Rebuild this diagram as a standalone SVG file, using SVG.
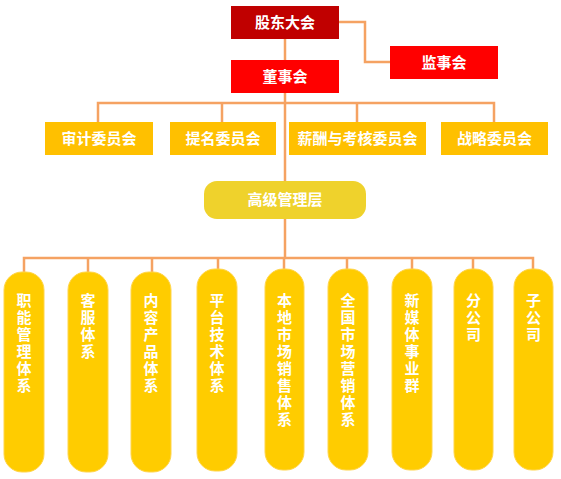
<svg xmlns="http://www.w3.org/2000/svg" width="561" height="479" viewBox="0 0 561 479">
<style>
.ln{stroke:#F5A262;stroke-width:2.5;fill:none}
.t{font-family:"Noto Sans CJK SC","Noto Sans",sans-serif;font-weight:bold;font-size:15px;fill:#fff;text-anchor:middle}
.v{font-family:"Noto Sans CJK SC","Noto Sans",sans-serif;font-weight:bold;font-size:15px;fill:#fff;writing-mode:vertical-rl;text-anchor:start;letter-spacing:2px}
.cm{fill:#FFC000}
.pill{fill:#FFCC00;stroke:#FFD54A;stroke-width:1}
</style>
<rect width="561" height="479" fill="#fff"/>
<g id="connectors">
<path class="ln" d="M285 39V258"/>
<path class="ln" d="M339 22H365V62H390"/>
<path class="ln" d="M98 122V103H494V122M222 103V122M357 103V122"/>
<path class="ln" d="M24 272V258H533V270M88 258V272M152 258V272M218 258V270M284 258V270M347 258V270M412 258V270M473 258V270"/>
</g>
<g id="gudong"><rect x="231" y="6" width="108" height="33" fill="#C00000"/><text class="t" x="285" y="28">股东大会</text></g>
<g id="dongshi"><rect x="231" y="60" width="108" height="33" fill="#FF0000"/><text class="t" x="285" y="82">董事会</text></g>
<g id="jianshi"><rect x="390" y="46" width="108" height="33" fill="#FF0000"/><text class="t" x="444" y="68">监事会</text></g>
<g id="shenji"><rect class="cm" x="45" y="122" width="108" height="33"/><text class="t" x="99" y="144">审计委员会</text></g>
<g id="timing"><rect class="cm" x="170" y="122" width="106" height="33"/><text class="t" x="223" y="144">提名委员会</text></g>
<g id="xinchou"><rect class="cm" x="289" y="122" width="137" height="33"/><text class="t" x="357.5" y="144">薪酬与考核委员会</text></g>
<g id="zhanlue"><rect class="cm" x="441" y="122" width="107" height="33"/><text class="t" x="494.5" y="144">战略委员会</text></g>
<g id="gaoji"><rect x="204" y="181" width="162" height="38" rx="13" fill="#EFD22C"/><text class="t" x="285" y="205">高级管理层</text></g>
<g id="zhineng"><rect class="pill" x="4" y="272" width="40" height="200" rx="18"/><text class="v" x="24" y="293">职能管理体系</text></g>
<g id="kefu"><rect class="pill" x="68" y="272" width="40" height="200" rx="18"/><text class="v" x="88" y="293">客服体系</text></g>
<g id="neirong"><rect class="pill" x="131" y="272" width="40" height="200" rx="18"/><text class="v" x="151" y="293">内容产品体系</text></g>
<g id="pingtai"><rect class="pill" x="197" y="269" width="40" height="202" rx="18"/><text class="v" x="217" y="293">平台技术体系</text></g>
<g id="bendi"><rect class="pill" x="265" y="269" width="39" height="201" rx="18"/><text class="v" x="284.5" y="293">本地市场销售体系</text></g>
<g id="quanguo"><rect class="pill" x="328" y="269" width="40" height="201" rx="18"/><text class="v" x="348" y="293">全国市场营销体系</text></g>
<g id="xinmeiti"><rect class="pill" x="392" y="269" width="40" height="201" rx="18"/><text class="v" x="412" y="293">新媒体事业群</text></g>
<g id="fengongsi"><rect class="pill" x="454" y="269" width="39" height="201" rx="18"/><text class="v" x="473.5" y="293">分公司</text></g>
<g id="zigongsi"><rect class="pill" x="514" y="269" width="39" height="201" rx="18"/><text class="v" x="533.5" y="293">子公司</text></g>
</svg>
